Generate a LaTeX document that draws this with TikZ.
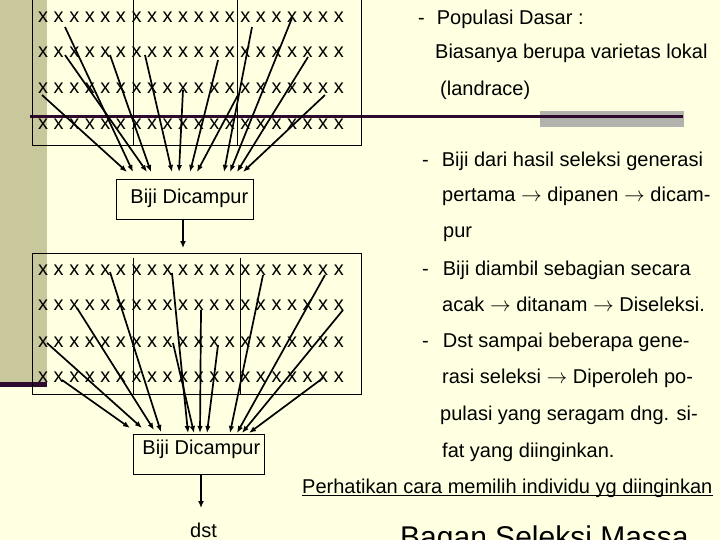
\documentclass[tikz,border=0pt]{standalone}
\usepackage{fontspec}
\setmainfont{Liberation Sans}
\usetikzlibrary{arrows.meta,calc}
\definecolor{bgyellow}{HTML}{FFFFE1}
\definecolor{khaki}{HTML}{C8C89C}
\definecolor{darkpurple}{HTML}{2E0A2E}
\definecolor{bargray}{HTML}{B3B3AE}
\begin{document}
\begin{tikzpicture}[x=1pt,y=-1pt,
  txt/.style={anchor=base west, inner sep=0pt, font=\fontsize{20}{24}\selectfont},
  xrow/.style={anchor=base west, inner sep=0pt, font=\fontsize{20}{24}\selectfont},
  gridline/.style={line width=0.9pt},
  arr/.style={line width=1.7pt, -{Latex[length=7pt,width=5.5pt]}},
  bigarr/.style={line width=1.7pt, -{Latex[length=7pt,width=6pt]}},
  boxnode/.style={draw, line width=0.9pt, anchor=north west, inner sep=0pt, font=\fontsize{20}{24}\selectfont}
]
\useasboundingbox (0,0) rectangle (720,540);
\clip (0,0) rectangle (720,540);
% slide background
\fill[bgyellow] (0,0) rectangle (720,540);
\fill[khaki] (0,0) rectangle (47,382);
\fill[darkpurple] (0,382) rectangle (47,387);
\fill[bargray] (540,111) rectangle (684,127);
\fill[darkpurple] (30,115.5) rectangle (683,118.5);

% top grid
\draw[gridline] (32,-5) rectangle (361,145);
\draw[gridline] (133,-5) -- (133,145);
\draw[gridline] (237,-5) -- (237,145);
% bottom grid
\draw[gridline] (32,253) rectangle (361,394);
\draw[gridline] (133,258) -- (133,394);
\draw[gridline] (240,258) -- (240,394);

% rows of x
\foreach \n/\yy in {1/23,2/58,3/94,4/130,5/275,6/310,7/347,8/382}{
  \node[xrow] (xr\n) at (38,\yy) {x x x x x x x x x x x x x x x x x x x x};
}

% boxes
\node[boxnode, text height=24pt, text depth=16pt] (b1) at (116,179)
  {\hspace*{14pt}Biji Dicampur\hspace*{5pt}};
\node[boxnode, text height=20pt, text depth=20pt] (b2) at (133,434)
  {\hspace*{9pt}Biji Dicampur\hspace*{4pt}};

% arrows top grid -> box 1
\foreach \i/\sx/\sy/\ex/\ey in {
  1/42/95/127/172, 2/65/27/133/172, 3/65/55/147/172, 4/110/55/151/172,
  5/145/55/172/172, 6/183/90/179/172, 7/218/60/190/172, 8/238/95/197/172,
  9/252/27/224/172, 10/292/18/230/172, 11/308/57/237/172, 12/325/95/243/172}{
  \coordinate (ts\i) at (\sx,\sy);
  \coordinate (te\i) at (\ex,\ey);
  \draw[arr] (ts\i) -- (te\i);
}
% arrows bottom grid -> box 2
\foreach \i/\sx/\sy/\ex/\ey in {
  1/62/380/130/428, 2/47/343/142/428, 3/77/308/154/430, 4/110/272/161/432,
  5/172/273/188/433, 6/173/343/194/433, 7/201/310/200/433, 8/218/345/207/433,
  9/263/275/230/433, 10/325/275/237/433, 11/343/310/242/433, 12/323/378/249/433}{
  \coordinate (bs\i) at (\sx,\sy);
  \coordinate (be\i) at (\ex,\ey);
  \draw[arr] (bs\i) -- (be\i);
}

% arrows out of boxes
\coordinate (d1) at (183,248);
\draw[bigarr] (d1 |- b1.south) -- (d1);
\coordinate (d2) at (201,508);
\draw[bigarr] (d2 |- b2.south) -- (d2);
\node[txt] (dst) at (190,537) {dst};

% right text
\node[txt] (t1) at (418,25) {-\hspace{12pt}Populasi Dasar :};
\node[txt] (t2) at (435,59) {Biasanya berupa varietas lokal};
\node[txt] (t3) at (440,96) {(landrace)};
\node[txt] (t4) at (422,167) {-\hspace{13pt}Biji dari hasil seleksi generasi};
\node[txt] (t5) at (442,202) {pertama $\rightarrow$ dipanen $\rightarrow$ dicam-};
\node[txt] (t6) at (443,237) {pur};
\node[txt] (t7) at (422,275) {-\hspace{14pt}Biji diambil sebagian secara};
\node[txt] (t8) at (442,311) {acak $\rightarrow$ ditanam $\rightarrow$ Diseleksi.};
\node[txt] (t9) at (422,347) {-\hspace{14pt}Dst sampai beberapa gene-};
\node[txt] (t10) at (442,383) {rasi seleksi $\rightarrow$ Diperoleh po-};
\node[txt] (t11) at (440,420) {pulasi yang seragam dng. si-};
\node[txt] (t12) at (442,457) {fat yang diinginkan.};
\node[txt] (t13) at (302,493) {Perhatikan cara memilih individu yg diinginkan};
\draw[line width=1.1pt] ($(t13.base west)+(0,2.5)$) -- ($(t13.base east)+(0,2.5)$);
\node[txt, font=\fontsize{30}{36}\selectfont] (t14) at (400,547) {Bagan Seleksi Massa};
\end{tikzpicture}
\end{document}
